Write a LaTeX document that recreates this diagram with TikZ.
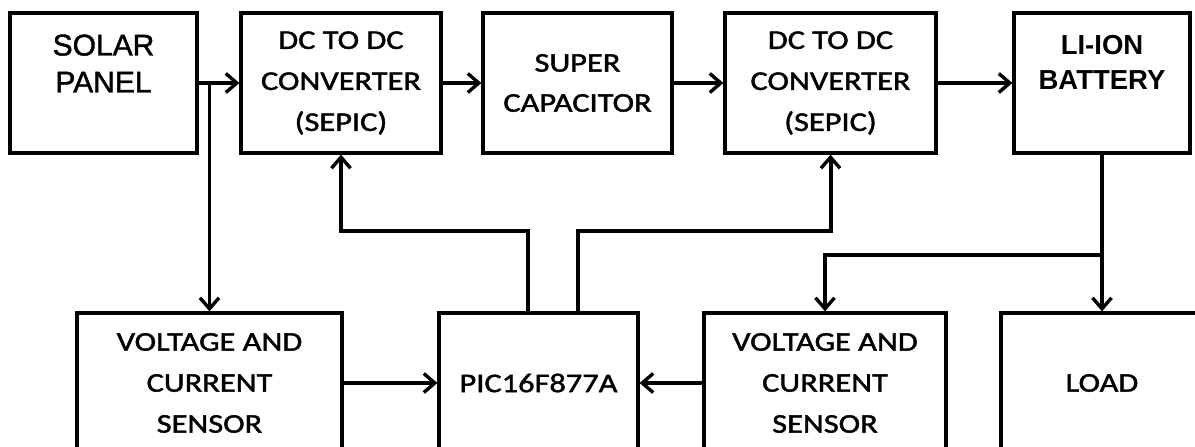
\documentclass[tikz,border=0pt]{standalone}
\usepackage{fontspec}
\setmainfont{Carlito}[FakeStretch=1.2, FakeBold=1.6]
\newfontfamily\arialfont{Liberation Sans}[FakeBold=1.4]
\newfontfamily\arialplain{Liberation Sans}
\usetikzlibrary{arrows.meta}

\begin{document}
\begin{tikzpicture}[
  x=1pt,
  y=-1pt,
  every node/.style={font=\fontsize{27}{41}\selectfont, black, align=center, inner sep=0pt},
  block/.style={draw, line width=3.2pt, minimum height=140pt},
  link/.style={black, line width=3.2pt,
    -{Straight Barb[length=11pt, width=19pt, line width=3.4pt]}},
  feed/.style={link, line width=4pt}
]
  % ---- frame of the page: the bottom row runs off its lower edge -------
  \useasboundingbox (0,0) rectangle (1195,447);
  \clip (0,0) rectangle (1195,447);

  % ---- top row: power path ---------------------------------------------
  \node[block, minimum width=187pt, font=\arialfont\fontsize{30}{37}\selectfont]
    (solar) at (103.5,83) {SOLAR\\PANEL\\[2pt]\mbox{}};
  \node[block, minimum width=200pt] (dc1) at (341,83) {DC TO DC\\CONVERTER\\(SEPIC)};
  \node[block, minimum width=189pt, font=\fontsize{27}{40}\selectfont]
    (cap) at (577.5,83) {SUPER\\CAPACITOR};
  \node[block, minimum width=211pt] (dc2) at (830.5,83) {DC TO DC\\CONVERTER\\(SEPIC)};
  \node[block, minimum width=176pt, font=\arialplain\bfseries\fontsize{27.5}{35}\selectfont]
    (batt) at (1102,83) {LI-ION\\BATTERY\\[6pt]\mbox{}};

  % ---- bottom row: sensing and control ---------------------------------
  \node[block, minimum width=265pt] (sensorA) at (209.5,383) {VOLTAGE AND\\CURRENT\\SENSOR};
  \node[block, minimum width=199pt] (pic) at (538.5,383) {PIC16F877A};
  \node[block, minimum width=242pt] (sensorB) at (825,383) {VOLTAGE AND\\CURRENT\\SENSOR};
  \node[block, minimum width=202pt] (load) at (1102,383) {LOAD};

  % ---- power flow ------------------------------------------------------
  \draw[link] (solar) -- (dc1);
  \draw[link] (dc1) -- (cap);
  \draw[link] (cap) -- (dc2);
  \draw[link] (dc2) -- (batt);
  \draw[link] (batt) -- (load);

  % ---- taps to the sensors ---------------------------------------------
  \coordinate (tap1) at (sensorA |- solar);
  \coordinate (tap2) at (1102,255);
  \draw[link] (tap1) -- (sensorA);
  \draw[link] (tap2) -| (sensorB);

  % ---- readings into the controller ------------------------------------
  \draw[link] (sensorA) -- (pic);
  \draw[link] (sensorB) -- (pic);

  % ---- control lines back to the converters ----------------------------
  \draw[feed] ([xshift=-10.5pt]pic.north) -- ++(0,-80) -| (dc1);
  \draw[feed] ([xshift=39.5pt]pic.north) -- ++(0,-80) -| (dc2);
\end{tikzpicture}
\end{document}
